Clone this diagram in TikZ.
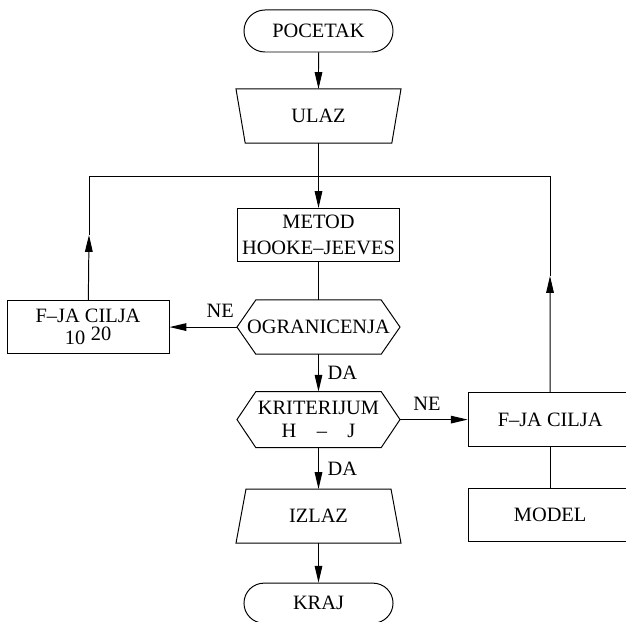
\documentclass[tikz,border=0pt]{standalone}
\usepackage{fontspec}
\setmainfont{Liberation Serif}
\usetikzlibrary{positioning,shapes.misc,arrows.meta}

% hexagon outline round a block_test node
\newcommand\hexframe[1]{%
  \draw (#1.west) -- ([xshift=0.47cm]#1.north west) -- ([xshift=-0.47cm]#1.north east)
    -- (#1.east) -- ([xshift=-0.47cm]#1.south east) -- ([xshift=0.47cm]#1.south west) -- cycle;}
% trapezium outline round a block_io node: #2 = top inset, #3 = bottom inset
\newcommand\ioframe[3]{%
  \draw ([xshift=#2]#1.north west) -- ([xshift=-#2]#1.north east)
    -- ([xshift=-#3]#1.south east) -- ([xshift=#3]#1.south west) -- cycle;}

\begin{document}
\begin{tikzpicture}[
  x=0.025cm, y=-0.025cm,
  line width=0.7pt,
  font=\fontsize{14.5}{18}\selectfont,
  block_term/.style={rounded rectangle, draw, minimum width=3.725cm,
    minimum height=1.05cm, inner sep=0pt},
  block_io/.style={rectangle, minimum width=4.1cm, minimum height=1.33cm, inner sep=0pt},
  block_proc/.style={rectangle, draw, text centered, align=center,
    minimum width=4.05cm, minimum height=1.33cm},
  block_test/.style={rectangle, align=center, minimum width=4.05cm, minimum height=1.33cm,
    inner sep=0pt, font=\fontsize{14.5}{16}\selectfont},
  line/.style={draw, -},
  arr/.style={draw, -{Triangle[length=0.42cm, width=0.19cm]}}
  ]

\useasboundingbox (0,0) rectangle (626,622);
\clip (0,0) rectangle (626,622);

\node [block_term] (start) at (318.5,31) {POCETAK};
\node [block_io, below of=start, node distance=2.125cm] (ulaz) {ULAZ};
\node [block_proc, below of=ulaz, node distance=2.975cm] (metod) {METOD\\HOOKE--JEEVES};
\node [block_test, below of=metod, node distance=2.3cm] (ogr) {OGRANICENJA};
\node [block_test, below of=ogr, node distance=2.3125cm, minimum height=1.375cm] (krit)
  {KRITERIJUM\\H\quad--\quad J};
\node [block_io, below of=krit, node distance=2.4125cm] (izlaz) {IZLAZ};
\node [block_term, below of=izlaz, node distance=2.175cm, minimum height=1cm] (kraj) {KRAJ};
\ioframe{ulaz}{0cm}{0.23cm}
\ioframe{izlaz}{0.25cm}{0cm}
\hexframe{ogr}
\hexframe{krit}

\node [block_proc, left of=ogr, node distance=5.76cm, font=\fontsize{14.5}{16}\selectfont]
  (cilj10) {F--JA CILJA\\10\;\raisebox{0.45ex}{20}};
\node [block_proc, right of=krit, node distance=5.79cm, minimum width=4.1cm] (cilj) {F--JA CILJA};
\node [block_proc, below of=cilj, node distance=2.375cm, minimum width=4.1cm] (model) {MODEL};

\coordinate (join) at (318.5,176);
\coordinate (lmid) at (89,235);
\coordinate (rmid) at (550,276);

\path [arr] (start) -- (ulaz);
\path [line] (ulaz) -- (join);
\path [arr] (join) -- (metod);
\path [line] (metod) -- (ogr);
\path [arr] (ogr) -- node[above=0.1cm, pos=0.25] {NE} (cilj10);
\path [arr] (ogr) -- node[right=0.1cm] {DA} (krit);
\path [arr] (krit) -- node[above=0.1cm, pos=0.4] {NE} (cilj);
\path [arr] (krit) -- node[right=0.1cm] {DA} (izlaz);
\path [arr] (izlaz) -- (kraj);
\path [line] (cilj) -- (model);
\path [arr] (cilj10) -- (lmid);
\path [line] (lmid) |- (join);
\path [arr] (cilj) -- (rmid);
\path [line] (rmid) |- (join);

\end{tikzpicture}
\end{document}
